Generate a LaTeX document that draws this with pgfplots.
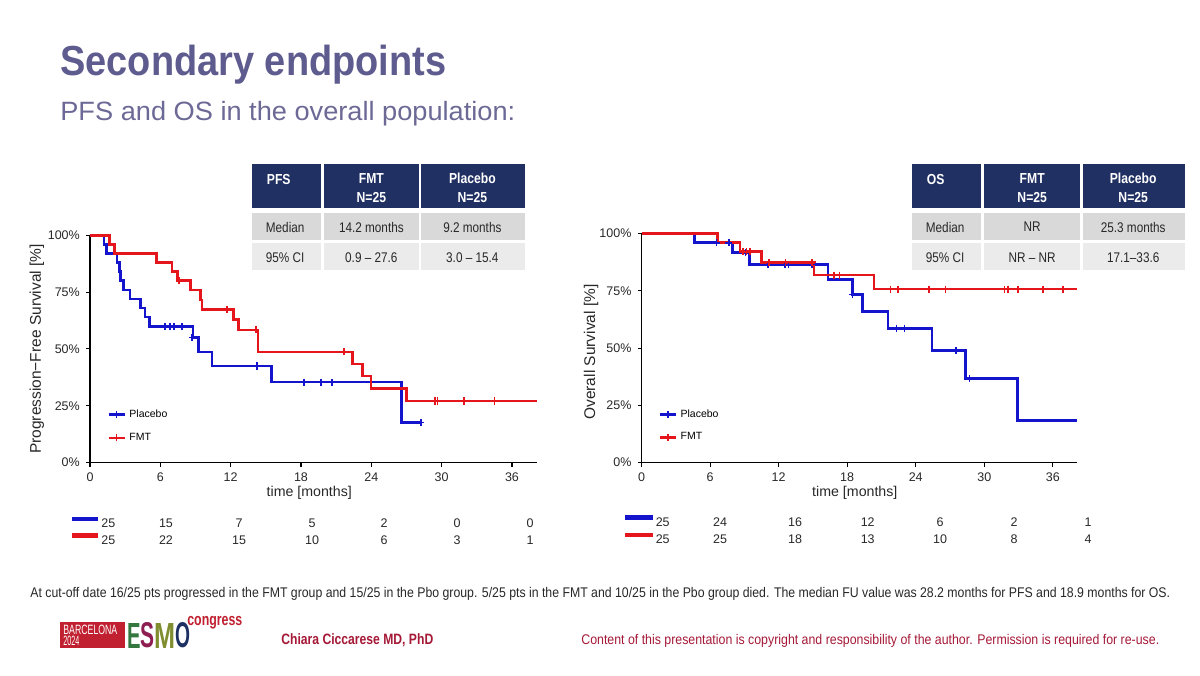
\documentclass[border=0pt]{standalone}
\usepackage{fontspec}
\setmainfont{Liberation Sans}
\newfontfamily\narrow[FakeStretch=0.84]{Liberation Sans}
\usepackage{pgfplots}
\pgfplotsset{compat=1.18}
\definecolor{ttl}{RGB}{94,91,142}
\definecolor{sub}{RGB}{108,105,150}
\definecolor{navy}{RGB}{32,48,98}
\definecolor{gA}{RGB}{217,217,217}
\definecolor{gB}{RGB}{235,235,235}
\definecolor{kmblue}{RGB}{20,20,205}
\definecolor{kmred}{RGB}{228,22,28}
\definecolor{dred}{RGB}{165,25,55}
\definecolor{esred}{RGB}{192,32,48}
\definecolor{esgreen}{RGB}{52,120,64}
\definecolor{esmag}{RGB}{142,30,82}
\definecolor{esolive}{RGB}{128,142,48}
\definecolor{esnavy}{RGB}{30,48,98}
\definecolor{txt}{RGB}{40,40,40}
% 1 px of the reference = 0.02cm
\newcommand\fpx[1]{\fontsize{\fpeval{#1*0.569}pt}{\fpeval{#1*0.569*1.2}pt}\selectfont}
\newcommand\fitw[2]{\resizebox{\fpeval{#1*0.02}cm}{\height}{#2}}
\pgfplotsset{
  km/.style={
    scale only axis, axis lines*=left, xmin=0, xmax=38.1, ymin=0, ymax=100,
    xtick={0,6,...,36}, ytick={0,25,50,75,100},
    yticklabels={0\%,25\%,50\%,75\%,100\%},
    tick align=outside, major tick length=0.08cm,
    tick style={black, line width=0.6pt},
    axis line style={black, line width=0.7pt},
    ticklabel style={font=\fpx{12.5}, text=txt},
    /pgf/number format/assume math mode=true,
    xlabel style={font=\fpx{14.2}, text=txt},
    ylabel style={font=\fpx{15.5}, text=txt},
    clip=false, legend cell align=left,
    legend style={draw=none, fill=none, font=\fpx{10.5}, row sep=0.12cm, inner sep=0pt},
    legend image code/.code={
      \draw[##1, line width=1.5pt] (0cm,0cm) -- (0.32cm,0cm);
      \draw[##1, line width=0.9pt] (0.16cm,-0.07cm) -- (0.16cm,0.07cm);},
  },
  curve/.style={line width=1.5pt, const plot},
  cens/.style={only marks, mark=+, mark size=2pt, mark options={line width=0.9pt}, forget plot},
}
\begin{document}
\begin{tikzpicture}[x=0.02cm, y=-0.02cm]
\path[use as bounding box, fill=white] (0,0) rectangle (1200,676);

% titles
\node[anchor=base west, inner sep=0, text=ttl] at (60,75)
  {\fitw{386}{\fpx{42}\bfseries Secondary endpoints}};
\node[anchor=base west, inner sep=0, text=sub] at (60,120)
  {\fitw{455}{\fpx{26.5}PFS and OS in the overall population:}};

% ---------------- PFS ----------------
\begin{axis}[km, at={(1.8cm,-9.254cm)}, anchor=south west, width=8.934cm, height=4.548cm,
  ylabel={Progression−Free Survival [\%]},
  ylabel style={at={(axis description cs:-0.119,0.5)}, anchor=center},
  xlabel={time [months]},
  xlabel style={at={(axis description cs:0.491,-0.134)}, anchor=center},
  legend style={at={(axis description cs:0.038,0.16)}, anchor=west}]
\addplot[kmblue, curve] coordinates {(0,100) (1.2,96) (1.4,92) (2.3,88) (2.5,84) (2.6,80)
  (2.85,76) (3.4,72) (4.3,68) (4.7,64) (5.1,60) (8.8,55.0) (9.25,48.6) (10.4,42.5)
  (15.5,35.4) (26.6,17.7) (28.2,17.7)};
\addlegendentry{Placebo}
\addplot[kmred, curve] coordinates {(0,100) (1.65,96) (2.1,92) (5.7,88) (7.0,84) (7.45,80)
  (8.6,76) (9.45,71.6) (9.55,67.4) (12.24,63.0) (12.66,58.4) (14.34,48.7) (22.42,43.3)
  (23.25,38.1) (23.96,32.6) (26.98,27.1) (38.1,27.1)};
\addlegendentry{FMT}
\addplot[kmblue, cens] coordinates {(6.40,60) (6.83,60) (7.17,60) (7.83,60) (8.71,55.0)
  (14.23,42.5) (18.27,35.4) (19.69,35.4) (20.63,35.4) (28.23,17.7)};
\addplot[kmred, cens] coordinates {(7.6,80) (11.67,67.4) (14.14,58.4) (21.66,48.7)
  (29.45,27.1) (29.65,27.1) (31.93,27.1) (34.52,27.1)};
\end{axis}

% ---------------- OS ----------------
\begin{axis}[km, at={(12.834cm,-9.254cm)}, anchor=south west, width=8.706cm, height=4.58cm,
  ylabel={Overall Survival [\%]},
  ylabel style={at={(axis description cs:-0.116,0.483)}, anchor=center},
  xlabel={time [months]},
  xlabel style={at={(axis description cs:0.49,-0.134)}, anchor=center},
  legend style={at={(axis description cs:0.038,0.16)}, anchor=west}]
\addplot[kmblue, curve] coordinates {(0,100) (4.66,96) (7.96,91.7) (9.47,86.6) (16.32,80.1)
  (18.45,73.5) (19.32,65.9) (21.57,58.7) (25.42,48.9) (28.33,36.7) (32.93,18.3) (38.1,18.3)};
\addlegendentry{Placebo}
\addplot[kmred, curve] coordinates {(0,100) (6.62,96) (8.6,92.1) (10.49,87.5) (15.1,81.9)
  (20.34,75.8) (38.1,75.8)};
\addlegendentry{FMT}
\addplot[kmblue, cens] coordinates {(6.56,96) (7.64,96) (9.09,91.7) (11.08,86.6) (12.53,86.6)
  (12.88,86.6) (14.92,86.6) (18.45,73.5) (22.3,58.7) (23.0,58.7) (27.54,48.9) (28.7,36.7)};
\addplot[kmred, cens] coordinates {(8.89,92.1) (9.18,92.1) (9.47,92.1) (11.13,87.5) (12.59,87.5)
  (14.92,87.5) (16.82,81.9) (17.34,81.9) (21.8,75.8) (22.44,75.8) (25.15,75.8) (26.61,75.8)
  (31.77,75.8) (32.06,75.8) (32.93,75.8) (35.12,75.8) (36.87,75.8)};
\end{axis}

% ---------------- tables ----------------
\foreach \x/\a/\b/\t/\m/\c/\mf/\mp/\cf/\cp in
  {251.7/322.7/420/PFS/Median/95\% CI/14.2 months/9.2 months/0.9 – 27.6/3.0 – 15.4,
   911.7/982.7/1081.7/OS/Median/95\% CI/NR/25.3 months/NR – NR/17.1–33.6}{
  \pgfmathsetmacro\e{\x+273}
  \fill[navy] (\x,164) rectangle (\e,208.3);
  \fill[gA] (\x,212.7) rectangle (\e,240);
  \fill[gB] (\x,242.7) rectangle (\e,270);
  \draw[white, line width=1.6pt] (\a,164) -- (\a,270) (\b,164) -- (\b,270);
  \node[anchor=west, text=white, font=\narrow\fpx{14.5}\bfseries] at (\x+9,179.5) {\t};
  \node[align=center, text=white, font=\narrow\fpx{14.5}\bfseries, inner sep=0] at ({(\a+\b)/2},188)
    {FMT\\[1pt]N=25};
  \node[align=center, text=white, font=\narrow\fpx{14.5}\bfseries, inner sep=0] at ({(\b+\e)/2},188)
    {Placebo\\[1pt]N=25};
  \node[anchor=west, text=txt, font=\narrow\fpx{14}] at (\x+8,227) {\m};
  \node[anchor=west, text=txt, font=\narrow\fpx{14}] at (\x+8,257.5) {\c};
  \node[text=txt, font=\narrow\fpx{14}] at ({(\a+\b)/2},227) {\mf};
  \node[text=txt, font=\narrow\fpx{14}] at ({(\b+\e)/2},227) {\mp};
  \node[text=txt, font=\narrow\fpx{14}] at ({(\a+\b)/2},257.5) {\cf};
  \node[text=txt, font=\narrow\fpx{14}] at ({(\b+\e)/2},257.5) {\cp};
}

% ---------------- numbers at risk ----------------
\draw[kmblue, line width=2.8pt] (71.7,519) -- (98.3,519);
\draw[kmred, line width=2.8pt] (71.7,535.7) -- (98.3,535.7);
\foreach \x/\u/\v in {108.3/25/25, 166/15/22, 239/7/15, 312/5/10, 384/2/6, 457/0/3, 530/0/1}{
  \node[text=txt, font=\fpx{12.5}] at (\x,523.3) {\u};
  \node[text=txt, font=\fpx{12.5}] at (\x,540) {\v};
}
\draw[kmblue, line width=2.8pt] (625,517.7) -- (652.7,517.7);
\draw[kmred, line width=2.8pt] (625,535) -- (652.7,535);
\foreach \x/\u/\v in {662.7/25/25, 720/24/25, 795/16/18, 867.7/12/13, 940/6/10, 1014/2/8, 1088/1/4}{
  \node[text=txt, font=\fpx{12.5}] at (\x,522.5) {\u};
  \node[text=txt, font=\fpx{12.5}] at (\x,539.5) {\v};
}

% ---------------- footnote ----------------
\node[anchor=base west, inner sep=0, text=txt] at (30,597)
  {\fitw{1140}{\fpx{14}At cut-off date 16/25 pts progressed in the FMT group and 15/25 in the Pbo group. 5/25 pts in the FMT and 10/25 in the Pbo group died. The median FU value was 28.2 months for PFS and 18.9 months for OS.}};

% ---------------- footer ----------------
\fill[esred] (60,622) rectangle (125,648);
\node[anchor=base west, inner sep=0, text=white] at (63,634.5) {\fitw{54}{\fpx{13.5}BARCELONA}};
\node[anchor=base west, inner sep=0, text=white] at (63,645.5) {\fitw{16}{\fpx{13.5}2024}};
\node[anchor=south west, inner sep=0, text=esgreen] at (127,648.5) {\resizebox{0.27cm}{0.5cm}{\bfseries E}};
\node[anchor=south west, inner sep=0, text=esmag] at (140,648.5) {\resizebox{0.28cm}{0.5cm}{\bfseries S}};
\node[anchor=south west, inner sep=0, text=esolive] at (154,648.5) {\resizebox{0.42cm}{0.5cm}{\bfseries M}};
\node[anchor=south west, inner sep=0, text=esnavy] at (175,648.5) {\resizebox{0.3cm}{0.5cm}{\bfseries O}};
\node[anchor=base west, inner sep=0, text=esred] at (187,625) {\fitw{55}{\fpx{17}\bfseries congress}};
\node[anchor=base west, inner sep=0, text=dred] at (281,644) {\fitw{152}{\fpx{15}\bfseries Chiara Ciccarese MD, PhD}};
\node[anchor=base west, inner sep=0, text=dred] at (581,644) {\fitw{578}{\fpx{14}Content of this presentation is copyright and responsibility of the author. Permission is required for re-use.}};
\end{tikzpicture}
\end{document}
